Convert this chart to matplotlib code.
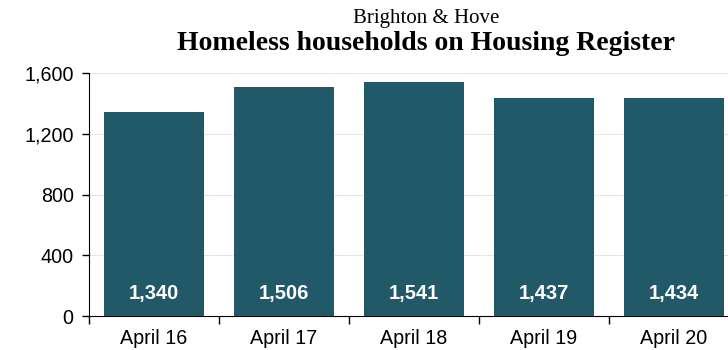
import matplotlib
matplotlib.use("Agg")
import matplotlib.pyplot as plt
from matplotlib.ticker import FuncFormatter, FixedLocator, NullFormatter

categories = ["April 16", "April 17", "April 18", "April 19", "April 20"]
values = [1340, 1506, 1541, 1437, 1434]
yticks = [0, 400, 800, 1200, 1600]

fig = plt.figure(figsize=(7.28, 3.5), dpi=100)
W, H = 728, 350
left, right = 89, 739
bottom, top = 316, 73
ax = fig.add_axes([left / W, (H - bottom) / H, (right - left) / W, (bottom - top) / H])

x = list(range(len(categories)))
ax.bar(x, values, width=0.77, color="#225968", zorder=3)
for xi, v in zip(x, values):
    ax.text(xi, 145, f"{v:,}", ha="center", va="center", color="white",
            fontsize=14.5, fontweight="bold", family="Liberation Sans", zorder=4)

ax.set_xlim(-0.5, len(categories) - 0.5)
ax.set_ylim(0, 1600)
ax.set_yticks(yticks)
ax.yaxis.set_major_formatter(FuncFormatter(lambda v, p: f"{int(v):,}"))
ax.grid(axis="y", color="#d4d4d4", linestyle=(0, (1.5, 1)), linewidth=0.7, zorder=0)

ax.xaxis.set_major_locator(FixedLocator([i - 0.5 for i in range(len(categories) + 1)]))
ax.xaxis.set_major_formatter(NullFormatter())
ax.xaxis.set_minor_locator(FixedLocator(x))
ax.set_xticklabels(categories, minor=True)
ax.tick_params(axis="x", which="minor", length=0, pad=9.5)
ax.tick_params(axis="x", which="major", length=6, width=1, color="black")
ax.tick_params(axis="y", length=5, width=1, color="black", pad=6)
for lbl in ax.get_yticklabels() + ax.get_xticklabels(minor=True):
    lbl.set_fontfamily("Liberation Sans")
    lbl.set_fontsize(14.2)
    lbl.set_color("black")

ax.spines["top"].set_visible(False)
ax.spines["right"].set_visible(False)
ax.spines["left"].set_color("black")
ax.spines["bottom"].set_color("black")

fig.text(426 / W, 1 - 18 / H, "Brighton & Hove", ha="center", va="center",
         fontsize=15, family="Liberation Serif")
fig.text(426 / W, 1 - 44 / H, "Homeless households on Housing Register", ha="center",
         va="center", fontsize=20, fontweight="bold", family="Liberation Serif")

fig.savefig("out.png", dpi=100)
